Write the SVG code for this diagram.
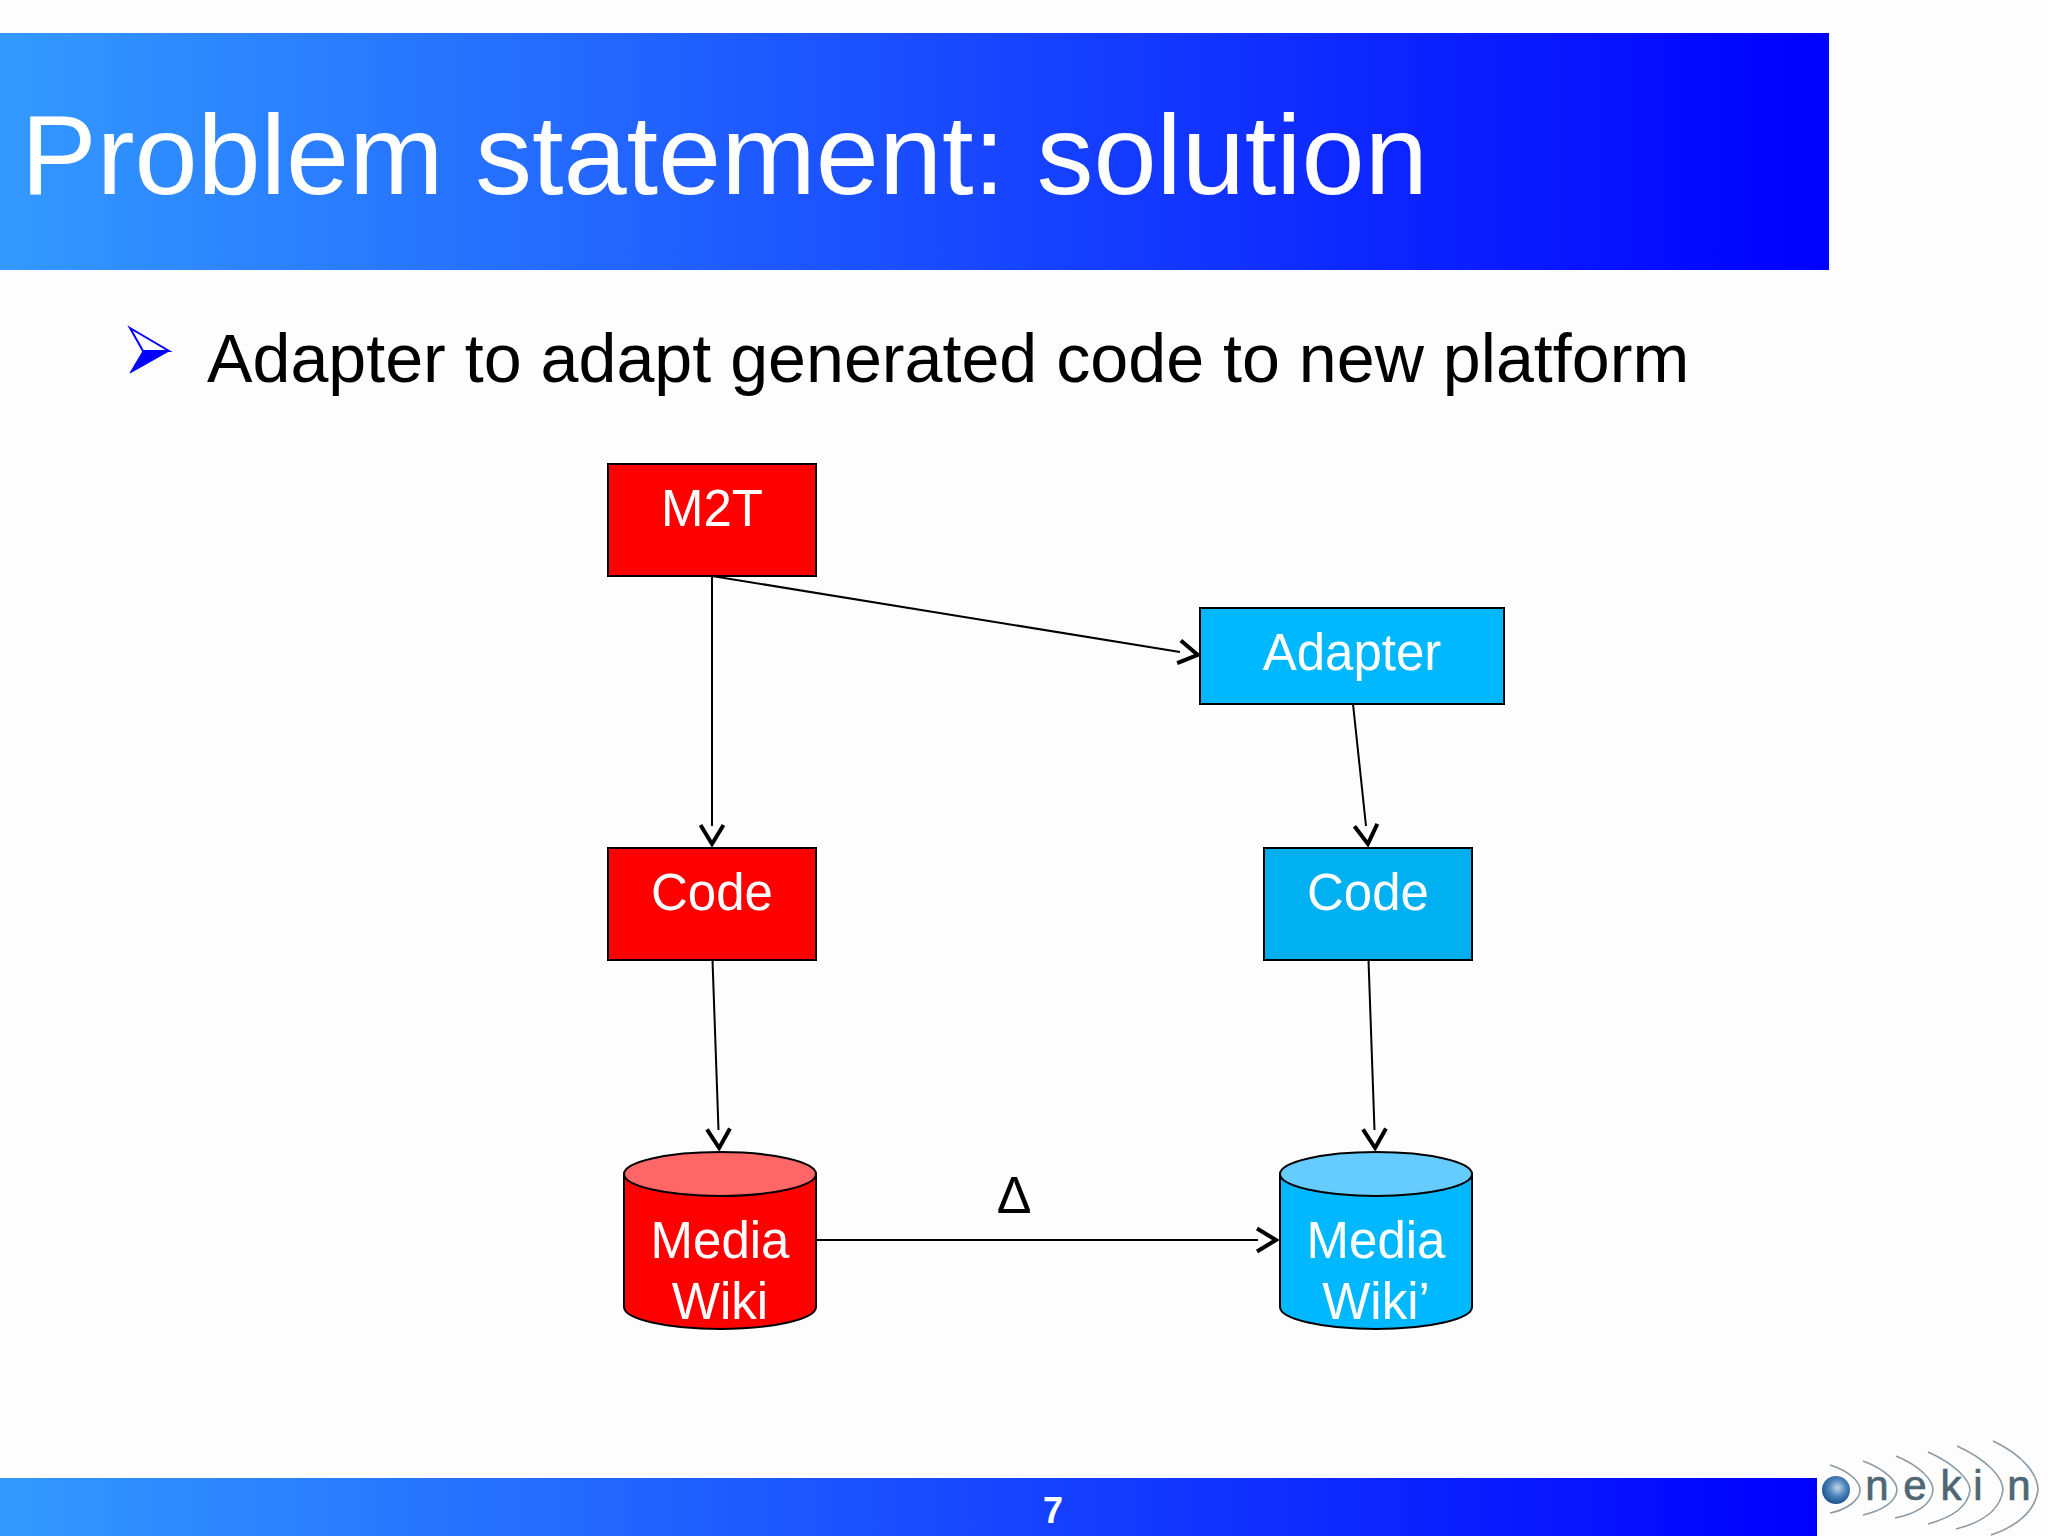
<svg xmlns="http://www.w3.org/2000/svg" width="2048" height="1536" viewBox="0 0 2048 1536">
<style>
.sans{font-family:"Liberation Sans",Arial,sans-serif}
.lbl{font-family:"Liberation Sans",Arial,sans-serif;font-size:51px;fill:#fff;text-anchor:middle}
.box{stroke:#000;stroke-width:2}
.red{fill:#ff0000}.blue{fill:#00b8ff}.blue2{fill:#00b0f0}
.c{fill:none;stroke:#000;stroke-width:2}
.arc{fill:none;stroke:#8a9ba6;stroke-width:1.6}
.logo{font-family:"Liberation Sans",Arial,sans-serif;font-size:42px;fill:#4f6675;stroke:#4f6675;stroke-width:0.7;text-anchor:middle}
</style>
<defs>
<linearGradient id="g" x1="0" x2="1" y1="0" y2="0"><stop offset="0" stop-color="#3399ff"/><stop offset="1" stop-color="#0000ff"/></linearGradient>
<radialGradient id="ball" cx="0.55" cy="0.42" r="0.6"><stop offset="0" stop-color="#c4d6e6"/><stop offset="0.5" stop-color="#4f86bd"/><stop offset="1" stop-color="#1c4f8c"/></radialGradient>
<marker id="open" markerUnits="userSpaceOnUse" markerWidth="30" markerHeight="30" refX="2" refY="13" orient="auto" overflow="visible"><path d="M1 1.500L20 13L1 24.500" fill="none" stroke="#000" stroke-width="4"/></marker>
</defs>
<rect width="2048" height="1536" fill="#fdfdfd"/>
<rect x="0" y="33" width="1829" height="237" fill="url(#g)"/>
<text class="sans" x="21" y="194" font-size="113.500" fill="#fff">Problem statement: solution</text>
<g id="bullet"><path d="M130 328L169 351L143 351Z" fill="#fff" stroke="#0000ff" stroke-width="2"/><path d="M130 373L169 351L143 351Z" fill="#0000ff" stroke="#0000ff" stroke-width="1"/></g>
<text class="sans" x="207" y="382" font-size="68.200" fill="#000">Adapter to adapt generated code to new platform</text>
<g id="connectors">
<path class="c" d="M712 576V826" marker-end="url(#open)"/>
<path class="c" d="M712 576L1180 652" marker-end="url(#open)"/>
<path class="c" d="M1353 704L1366 826" marker-end="url(#open)"/>
<path class="c" d="M712.500 960L718.500 1130" marker-end="url(#open)"/>
<path class="c" d="M1368.500 960L1374.500 1130" marker-end="url(#open)"/>
<path class="c" d="M816 1240H1258" marker-end="url(#open)"/>
</g>
<g id="m2t"><rect class="box red" x="608" y="464" width="208" height="112"/><text class="lbl" x="712" y="526">M2T</text></g>
<g id="adapter"><rect class="box blue" x="1200" y="608" width="304" height="96"/><text class="lbl" x="1352" y="670">Adapter</text></g>
<g id="code-left"><rect class="box red" x="608" y="848" width="208" height="112"/><text class="lbl" x="712" y="910">Code</text></g>
<g id="code-right"><rect class="box blue2" x="1264" y="848" width="208" height="112"/><text class="lbl" x="1368" y="910">Code</text></g>
<g id="wiki-left">
<path class="box red" d="M624 1174V1307C624 1319 667 1329 720 1329S816 1319 816 1307V1174Z"/>
<ellipse class="box" fill="#ff6666" cx="720" cy="1174" rx="96" ry="22"/>
<text class="lbl" x="720" y="1258">Media</text><text class="lbl" x="720" y="1319">Wiki</text>
</g>
<g id="wiki-right">
<path class="box blue" d="M1280 1174V1307C1280 1319 1323 1329 1376 1329S1472 1319 1472 1307V1174Z"/>
<ellipse class="box" fill="#66ccff" cx="1376" cy="1174" rx="96" ry="22"/>
<text class="lbl" x="1376" y="1258">Media</text><text class="lbl" x="1376" y="1319">Wiki’</text>
</g>
<text class="sans" x="1014" y="1213" font-size="52" fill="#000" text-anchor="middle">Δ</text>
<rect x="0" y="1478" width="1817" height="58" fill="url(#g)"/>
<text class="sans" x="1053" y="1523" font-size="36" font-weight="bold" fill="#fff" text-anchor="middle">7</text>
<g id="logo">
<path class="arc" d="M1830 1465C1852 1472 1860 1483 1860 1490C1860 1501 1845 1510 1830 1513"/>
<path class="arc" d="M1863 1461C1887 1470 1897 1482 1897 1490C1896 1503 1880 1511 1863 1515"/>
<path class="arc" d="M1896 1456C1920 1466 1933 1480 1933 1490C1932 1505 1915 1514 1895 1518"/>
<path class="arc" d="M1928 1452C1955 1464 1970 1480 1970 1490C1968 1508 1950 1518 1928 1524"/>
<path class="arc" d="M1957 1446C1988 1460 2003 1478 2003 1490C2000 1511 1980 1523 1956 1529"/>
<path class="arc" d="M1993 1441C2025 1456 2038 1476 2038 1490C2035 1514 2012 1528 1991 1535"/>
<circle cx="1836" cy="1490" r="14" fill="url(#ball)"/>
<text class="logo" x="1877" y="1500">n</text><text class="logo" x="1915" y="1500">e</text><text class="logo" x="1951" y="1500">k</text><text class="logo" x="1978" y="1500">i</text><text class="logo" x="2019" y="1500">n</text>
</g>
</svg>
